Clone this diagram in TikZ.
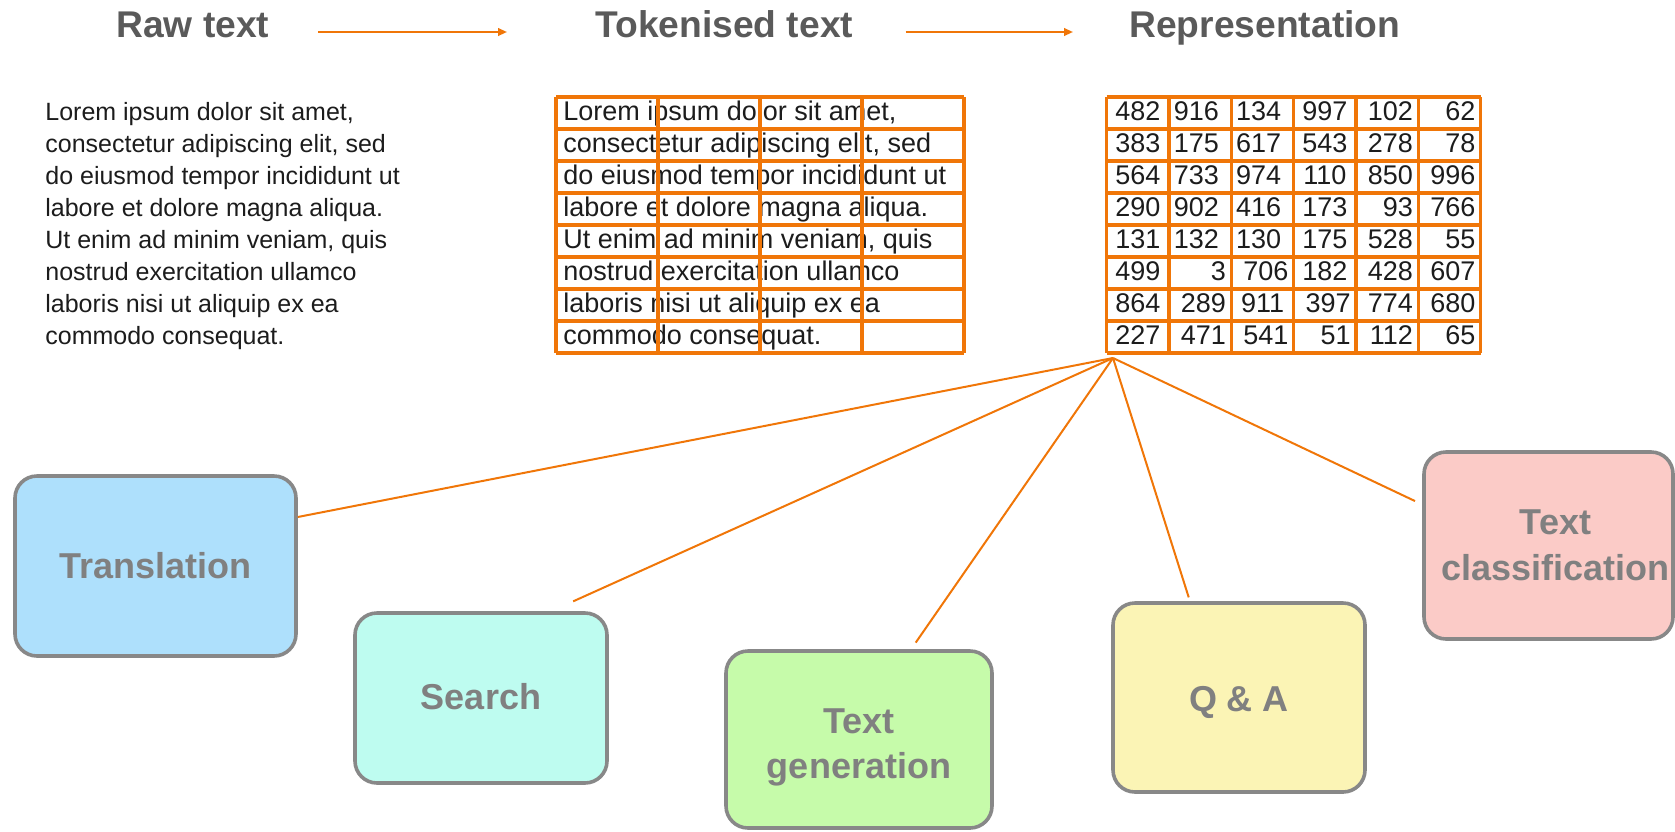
\documentclass[tikz,border=0pt]{standalone}
\usepackage{fontspec}
\setmainfont{Liberation Sans}
\usetikzlibrary{arrows.meta, calc}
\definecolor{tokorange}{RGB}{240,118,8}
\definecolor{headgray}{RGB}{90,90,90}
\definecolor{boxgray}{RGB}{136,136,136}
\definecolor{labelgray}{RGB}{128,128,128}
\definecolor{inkblack}{RGB}{28,28,28}
\definecolor{transblue}{RGB}{174,224,252}
\definecolor{searchmint}{RGB}{190,252,240}
\definecolor{gengreen}{RGB}{198,251,170}
\definecolor{qayellow}{RGB}{251,244,181}
\definecolor{clspink}{RGB}{251,203,199}
% label set a bit lower than the box centre, box size unchanged
\newcommand{\sunk}[2]{%
  \raisebox{-#1}[\height][\depth]{\begin{tabular}{@{}c@{}}#2\end{tabular}}}
\tikzset{
  head label/.style={
    font=\fontsize{18.6}{21}\selectfont\bfseries,
    text=headgray,
    anchor=base west,
    inner sep=0pt
  },
  flow arrow/.style={
    -{Triangle[length=4.5pt, width=3.8pt]},
    line width=1pt,
    color=tokorange
  },
  raw line/.style={
    font=\fontsize{12.5}{16}\selectfont,
    text=inkblack,
    anchor=base west,
    inner sep=0pt
  },
  tok line/.style={
    font=\fontsize{13.5}{16}\selectfont,
    text=inkblack,
    anchor=base west,
    inner sep=0pt
  },
  rep num/.style={
    font=\fontsize{13.5}{16}\selectfont,
    text=inkblack,
    inner sep=0pt
  },
  num l/.style={anchor=base west, xshift=-13.4pt},
  num c/.style={anchor=base},
  num r/.style={anchor=base east, xshift=13.1pt},
  grid line/.style={
    draw=tokorange,
    line width=1.6pt
  },
  task box/.style={
    draw=boxgray,
    line width=1.8pt,
    rounded corners=11pt,
    font=\fontsize{18}{22.8}\selectfont\bfseries,
    text=labelgray,
    align=center,
    inner sep=0pt
  },
  link/.style={
    draw=tokorange,
    line width=1pt
  }
}

\begin{document}
\begin{tikzpicture}[x=0.5pt, y=-0.5pt]

  \useasboundingbox (0,0) rectangle (1675,831);

  %% ---- headings ----
  \node[head label] (rawhead) at (116,37)  {Raw text};
  \node[head label] (tokhead) at (595,37)  {Tokenised text};
  \node[head label] (rephead) at (1129,37) {Representation};

  \draw[flow arrow] ([shift={(24pt,2.5pt)}]rawhead.base east)
      -- ([shift={(-44pt,2.5pt)}]tokhead.base west);
  \draw[flow arrow] ([shift={(26pt,2.5pt)}]tokhead.base east)
      -- ([shift={(-28pt,2.5pt)}]rephead.base west);

  %% ---- raw text ----
  \foreach \txt [count=\i] in {
      {Lorem ipsum dolor sit amet,},
      {consectetur adipiscing elit, sed},
      {do eiusmod tempor incididunt ut},
      {labore et dolore magna aliqua.},
      {Ut enim ad minim veniam, quis},
      {nostrud exercitation ullamco},
      {laboris nisi ut aliquip ex ea},
      {commodo consequat.}} {
    \node[raw line] (raw\i) at (45,{120+(\i-1)*32}) {\txt};
    % same line, cut into tokens
    \node[tok line] (tok\i) at (563,{120+(\i-1)*32}) {\txt};
  }

  %% ---- token grid (4 x 8) ----
  \foreach \r in {0,...,8}
    \draw[grid line] (556,{97+\r*32}) -- (964,{97+\r*32});
  \foreach \c in {0,...,4}
    \draw[grid line] ({556+\c*102},97) -- ({556+\c*102},353);

  %% ---- representation (6 x 8) ----
  \foreach \rowvals [count=\r] in {
      {482/c,916/l,134/l,997/c,102/r,62/r},
      {383/c,175/l,617/l,543/c,278/r,78/r},
      {564/c,733/l,974/l,110/c,850/r,996/r},
      {290/c,902/l,416/l,173/c,93/r,766/r},
      {131/c,132/l,130/l,175/c,528/r,55/r},
      {499/c,3/r,706/r,182/c,428/r,607/r},
      {864/c,289/r,911/c,397/r,774/r,680/r},
      {227/c,471/r,541/r,51/r,112/r,65/r}} {
    \foreach \v/\a [count=\c] in \rowvals {
      \node[rep num, num \a] (rep-\r-\c)
          at ({1106.7+(\c-0.5)*62.33},{120+(\r-1)*32}) {\v};
    }
  }
  \foreach \r in {0,...,8}
    \draw[grid line] (1106.7,{97+\r*32}) -- (1480.7,{97+\r*32});
  \foreach \c in {0,...,6}
    \draw[grid line] ({1106.7+\c*62.33},97) -- ({1106.7+\c*62.33},353);

  %% ---- tasks ----
  \node[task box, fill=transblue,  minimum width=140.5pt, minimum height=90pt]
      (trans)   at (155.5,566)  {Translation};
  \node[task box, fill=searchmint, minimum width=126pt,   minimum height=85pt]
      (search)  at (481,698)    {\sunk{1pt}{Search}};
  \node[task box, fill=gengreen,   minimum width=133pt,   minimum height=88.5pt]
      (textgen) at (859,739.5)  {\sunk{3.7pt}{Text\\generation}};
  \node[task box, fill=qayellow,   minimum width=126pt,   minimum height=94.5pt]
      (qa)      at (1239,697.5) {\sunk{2.5pt}{Q \& A}};
  \node[task box, fill=clspink,    minimum width=124.5pt, minimum height=93.5pt]
      (textcls) at (1548.5,545.5) {\hspace*{7pt}Text\\\hspace*{7pt}classification};

  %% ---- links from the representation ----
  \coordinate (hub) at (1113,358);

  \draw[link]                 (hub) -- (trans.19);
  \draw[link, shorten >=12pt] (hub) -- (search.51);
  \draw[link, shorten >=4pt]  (hub) -- (textgen.60);
  \draw[link, shorten >=2pt]  (hub) -- (qa.117);
  \draw[link, shorten >=4pt]  (hub) -- (textcls.162.5);

\end{tikzpicture}
\end{document}
